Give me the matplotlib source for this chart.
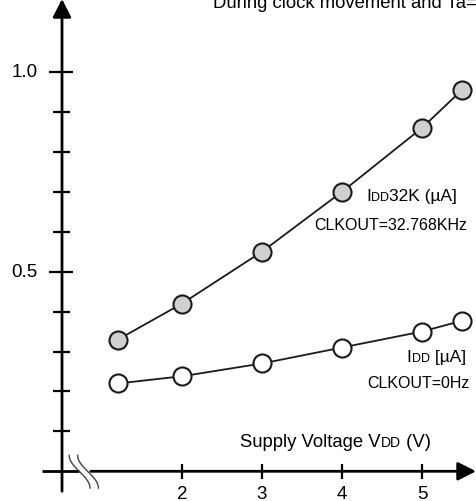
"""Supply current vs supply voltage (datasheet style figure)."""

import numpy as np
import matplotlib
matplotlib.use("Agg")
import matplotlib.pyplot as plt

plt.rcParams["font.family"] = ["Liberation Sans", "DejaVu Sans"]

# data
vdd = [1.2, 2, 3, 4, 5, 5.5]
idd_32k = [0.33, 0.42, 0.55, 0.70, 0.86, 0.955]
idd_0hz = [0.22, 0.238, 0.27, 0.31, 0.35, 0.377]

x_ticks = [2, 3, 4, 5]
y_major = [0.5, 1.0]
y_minor = [0.1, 0.2, 0.3, 0.4, 0.6, 0.7, 0.8, 0.9]

title = "During clock movement and Ta=25°C"


def mixed_text(ax, x, y, parts, **kw):
    """Chain text pieces of different sizes on one baseline."""
    s, size = parts[0]
    prev = ax.text(x, y, s, fontsize=size, va="baseline", ha="left", **kw)
    for s, size in parts[1:]:
        prev = ax.annotate(s, xy=(1, y), xycoords=(prev, "data"),
                           fontsize=size, va="baseline", ha="left", **kw)
    return prev


fig = plt.figure(figsize=(4.76, 5.02), dpi=100)
ax = fig.add_axes([0, 0, 1, 1])
ax.set_xlim(-0.275, 5.675)
ax.set_ylim(-0.0744, 1.1828)
ax.axis("off")

y_axis_x = 0.5
lw_axis = 2.0
arrow = dict(arrowstyle="-|>,head_length=0.55,head_width=0.28",
             lw=lw_axis, color="black", mutation_scale=20,
             shrinkA=0, shrinkB=0)

# y axis with arrow
ax.annotate("", xy=(y_axis_x, 1.1828), xytext=(y_axis_x, -0.05),
            arrowprops=arrow)
# x axis, broken near the origin
ax.plot([0.25, 0.71], [0, 0], color="black", lw=lw_axis, solid_capstyle="butt")
ax.annotate("", xy=(5.675, 0), xytext=(0.86, 0), arrowprops=arrow)
# break marks
t = np.linspace(0, 1, 40)
for x0 in (0.59, 0.695):
    bx = x0 + 0.26 * (0.5 - 0.5 * np.cos(np.pi * t))
    by = 0.04 - 0.082 * t
    ax.plot(bx, by, color="#444444", lw=1.0)

# ticks
ax.vlines(x_ticks, -0.019, 0.018, color="black", lw=1.6)
ax.hlines(y_major, 0.3375, 0.6375, color="black", lw=1.6)
ax.hlines(y_minor, 0.3875, 0.60, color="black", lw=1.6)
for xv in x_ticks:
    ax.text(xv, -0.034, str(xv), ha="center", va="top", fontsize=13.5)
for yv in y_major:
    ax.text(0.2, yv, f"{yv:.1f}", ha="right", va="center", fontsize=13.5)

# series
ax.plot(vdd, idd_32k, color="#1a1a1a", lw=1.3, marker="o", markersize=13,
        markerfacecolor="#d0d0d3", markeredgecolor="#1a1a1a",
        markeredgewidth=1.5, zorder=3)
ax.plot(vdd, idd_0hz, color="#1a1a1a", lw=1.3, marker="o", markersize=13,
        markerfacecolor="white", markeredgecolor="#1a1a1a",
        markeredgewidth=1.5, zorder=3)

# annotations
fs = 12.5
small = 9
mixed_text(ax, 4.30, 0.680, [("I", fs), ("DD", small), ("32K (µA]", fs)])
ax.text(5.5625, 0.607, "CLKOUT=32.768KHz", ha="right", va="baseline",
        fontsize=11.5)
mixed_text(ax, 4.81, 0.277, [("I", fs), ("DD", small), (" [µA]", fs)])
ax.text(5.60, 0.210, "CLKOUT=0Hz", ha="right", va="baseline", fontsize=11.5)
mixed_text(ax, 2.725, 0.064,
           [("Supply Voltage V", 13.3), ("DD", 10), (" (V)", 13.3)])
# the reference crops this header at the top edge
ax.text(2.39, 1.164, title, ha="left", va="baseline", fontsize=13.3)

fig.savefig("out.png", dpi=100)
plt.close(fig)
